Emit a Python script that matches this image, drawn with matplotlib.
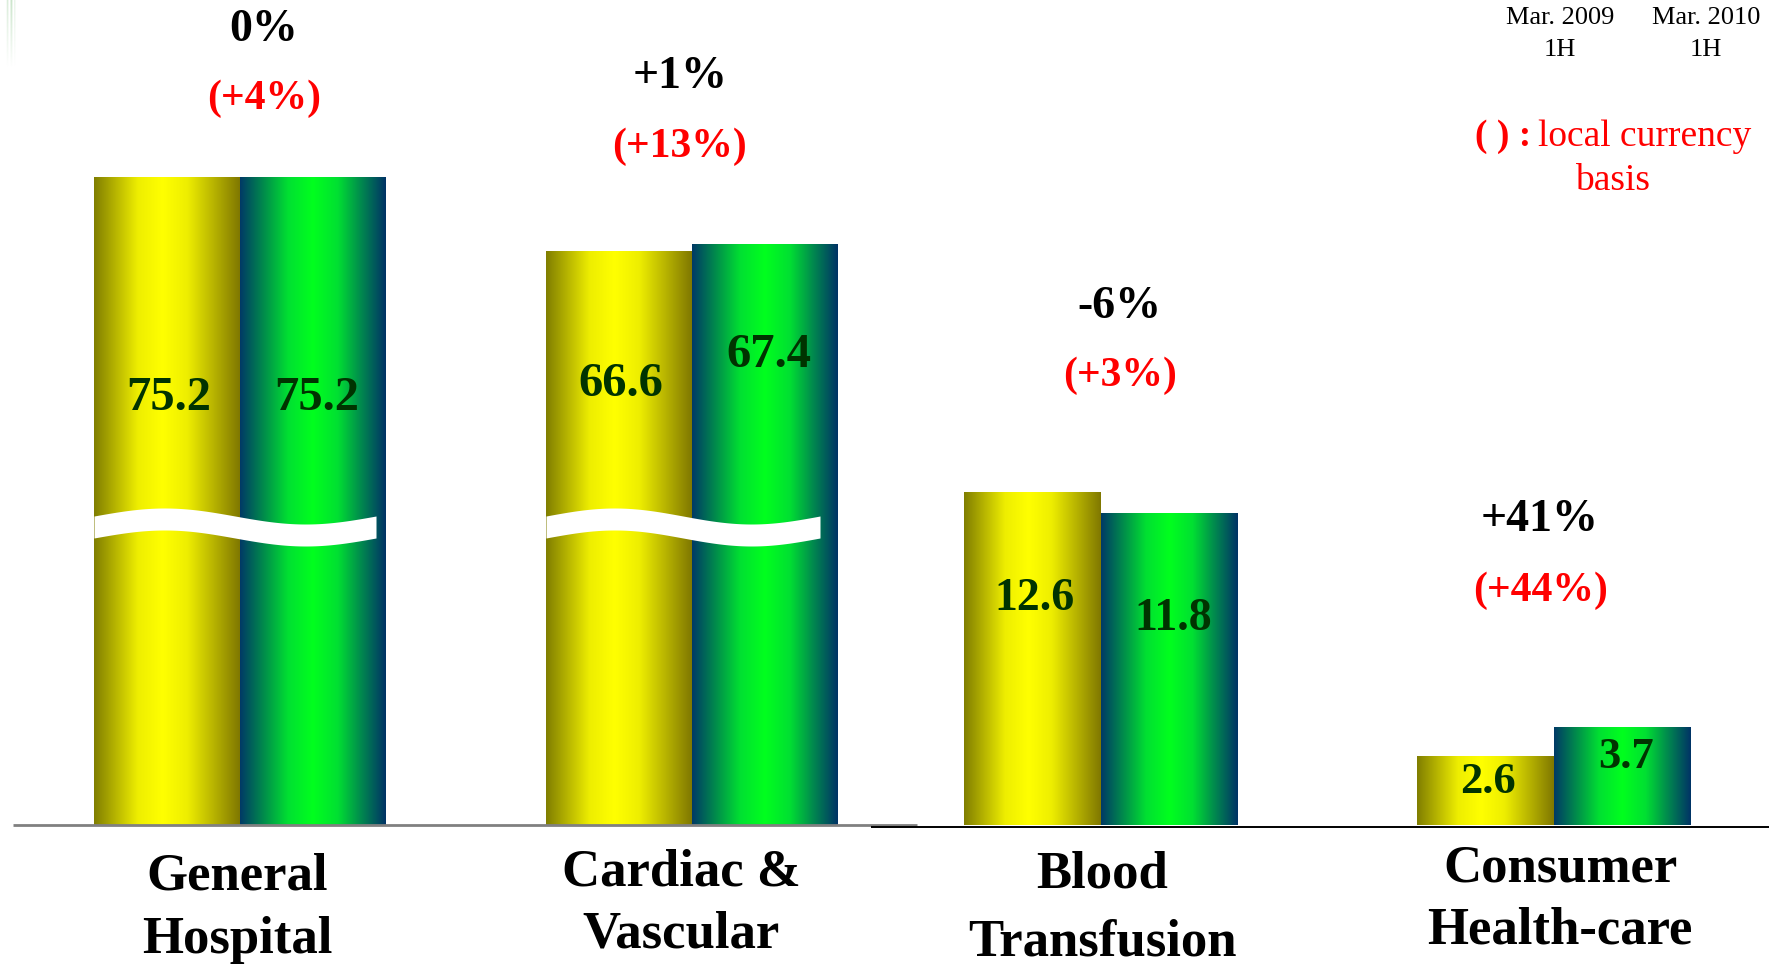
import numpy as np
import matplotlib
matplotlib.use("Agg")
import matplotlib.pyplot as plt
from matplotlib.colors import LinearSegmentedColormap

plt.rcParams['font.family'] = ['Liberation Serif', 'DejaVu Serif']

# Sales by business segment (billion yen)
categories = ["General\nHospital", "Cardiac &\nVascular", "Blood\nTransfusion", "Consumer\nHealth-care"]
prev_half = [75.2, 66.6, 12.6, 2.6]   # Mar. 2009 1H
curr_half = [75.2, 67.4, 11.8, 3.7]   # Mar. 2010 1H
growth = ["0%", "+1%", "-6%", "+41%"]
growth_local = ["(+4%)", "(+13%)", "(+3%)", "(+44%)"]
period_labels = ["Mar. 2009\n1H", "Mar. 2010\n1H"]
broken = [True, True, False, False]

# layout, in pixels of the 1769x968 canvas
W, H = 1769, 968
BASE = 825          # baseline row
PX = 26.4           # pixels per unit
SHRINK = 0.326      # scale used for the broken (tall) bars
centers = np.array([240, 692, 1101, 1554])
widths = np.array([146, 146, 137, 137])
frac_prev = [0.66, 0.77, 0.68, 0.62]
frac_curr = [0.66, 0.81, 0.66, 0.70]
growth_xy = [(264, 30), (680, 77), (1119, 307), (1540, 520)]
local_xy = [(264, 99), (680, 147), (1120, 376), (1541, 591)]
cat_x = [237, 681, 1102, 1560]
cat_y = [(876, 940), (872, 935), (874, 942), (869, 931)]
value_sizes = [35, 35, 33, 32]
wave_trim = [10, 18, 0, 0]


def ypx(row):
    return (BASE - row) / PX


fig = plt.figure(figsize=(W / 100, H / 100), dpi=100)
ax = fig.add_axes([0, 0, 1, 1])
ax.axis('off')

yellow_cm = LinearSegmentedColormap.from_list('yel', [
    (0, '#807E00'), (0.15, '#B8B600'), (0.3, '#EEEE00'), (0.47, '#FFFF00'),
    (0.64, '#EEEE00'), (0.82, '#B8B400'), (1, '#807800')])
green_cm = LinearSegmentedColormap.from_list('grn', [
    (0, '#003A66'), (0.17, '#00904A'), (0.33, '#00E032'), (0.5, '#00FF1E'),
    (0.67, '#00E032'), (0.83, '#008A4E'), (1, '#003366')])
grad = np.linspace(0, 1, 256).reshape(1, -1)

shown_prev = np.where(broken, np.array(prev_half) * SHRINK, prev_half)
shown_curr = np.where(broken, np.array(curr_half) * SHRINK, curr_half)

bars_prev = ax.bar(centers - widths, shown_prev, widths, align='edge', color='none', edgecolor='none')
bars_curr = ax.bar(centers, shown_curr, widths, align='edge', color='none', edgecolor='none')

for bars, cm in [(bars_prev, yellow_cm), (bars_curr, green_cm)]:
    for b in bars:
        x, w, h = b.get_x(), b.get_width(), b.get_height()
        ax.imshow(grad, cmap=cm, extent=[x, x + w, 0, h], aspect='auto',
                  interpolation='bilinear', zorder=2)

# white wavy band marking the axis break
for i in range(len(categories)):
    if not broken[i]:
        continue
    x0 = centers[i] - widths[i]
    x1 = centers[i] + widths[i] - wave_trim[i]
    xs = np.linspace(x0, x1, 200)
    t = (xs - x0) / (x1 - x0)
    mid = ypx(527) + 8 / PX * np.sin(2 * np.pi * t)
    ax.fill_between(xs, mid - 11 / PX, mid + 11 / PX, color='white', lw=0, zorder=3)

# value labels inside the bars
for i in range(len(categories)):
    ax.text(centers[i] - widths[i] / 2 + 2, shown_prev[i] * frac_prev[i], f"{prev_half[i]:.1f}",
            ha='center', va='center', fontsize=value_sizes[i], fontweight='bold', color='#003300', zorder=4)
    ax.text(centers[i] + widths[i] / 2 + 4, shown_curr[i] * frac_curr[i], f"{curr_half[i]:.1f}",
            ha='center', va='center', fontsize=value_sizes[i], fontweight='bold', color='#003300', zorder=4)

# growth rates
for i in range(len(categories)):
    gx, gy = growth_xy[i]
    ax.text(gx, ypx(gy), growth[i], ha='center', va='center', fontsize=33, fontweight='bold', color='black')
    lx, ly = local_xy[i]
    ax.text(lx, ypx(ly), growth_local[i], ha='center', va='center', fontsize=30, fontweight='bold', color='red')

# category names
for i, name in enumerate(categories):
    for line, row in zip(name.split("\n"), cat_y[i]):
        ax.text(cat_x[i], ypx(row), line, ha='center', va='center', fontsize=38, fontweight='bold')

# baseline
ax.plot([13, 917], [ypx(825)] * 2, color='#808080', lw=2, zorder=5, solid_capstyle='butt')
ax.plot([871, W], [ypx(826.5)] * 2, color='black', lw=1.4, zorder=5, solid_capstyle='butt')

# period key and currency note
for lbl, px in zip(period_labels, [1560, 1706]):
    top, bottom = lbl.split("\n")
    ax.text(px, ypx(18), top, ha='center', va='center', fontsize=19)
    ax.text(px, ypx(50), bottom, ha='center', va='center', fontsize=19)
ax.text(1475, ypx(137), "( ) :", ha='left', va='center', fontsize=27, fontweight='bold', color='red')
ax.text(1538, ypx(137), "local currency", ha='left', va='center', fontsize=27, color='red')
ax.text(1613, ypx(181), "basis", ha='center', va='center', fontsize=27, color='red')

# faint stripes in the top-left corner
stripe = np.zeros((60, 10, 4))
stripe[..., :3] = [0.55, 0.78, 0.55]
cols = np.array([0.1, 0.35, 0.15, 0.0, 0.25, 0.5, 0.2, 0.0, 0.2, 0.1])
stripe[..., 3] = np.linspace(0.9, 0.0, 60)[:, None] * cols[None, :]
ax.imshow(stripe, extent=[6, 16, ypx(68), ypx(0)], aspect='auto', zorder=1)

# page number, mostly below the edge
ax.text(1733, ypx(990), "4", ha='center', va='baseline', fontsize=22)

ax.set_xlim(0, W)
ax.set_ylim(ypx(H), ypx(0))

fig.savefig("out.png", dpi=100)
